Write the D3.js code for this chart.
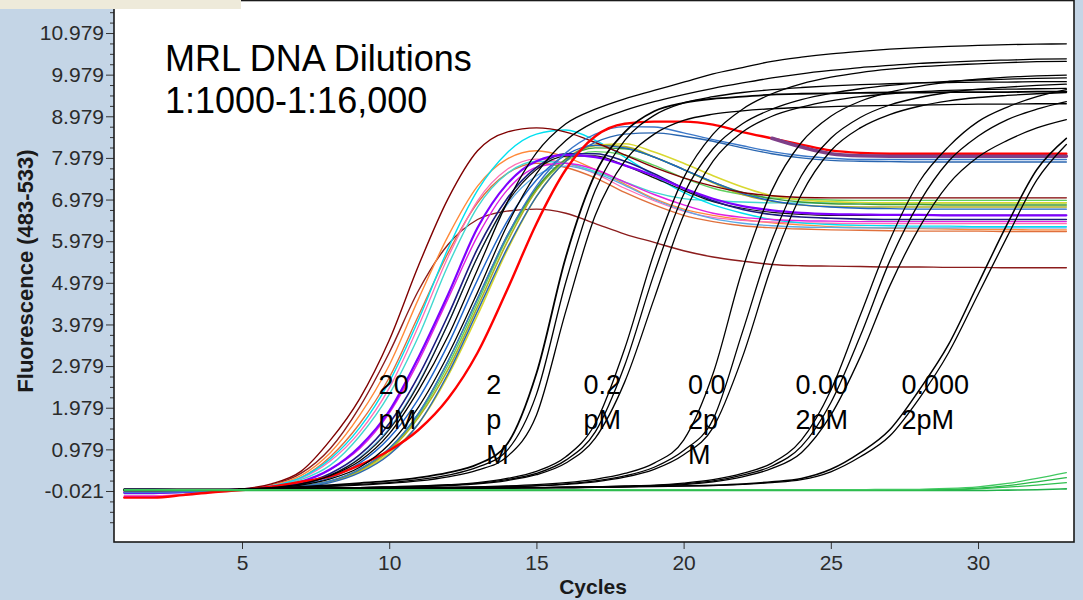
<!DOCTYPE html>
<html>
<head>
<meta charset="utf-8">
<script src="https://cdn.jsdelivr.net/npm/d3@7"></script>
<style>
  body { margin: 0; background: #C4D5E6; }
  svg { display: block; }
</style>
</head>
<body>
<div id="chart"></div>
<script>
/* qPCR amplification plot - MRL DNA dilutions */

// cycle numbers (x values)
var cycles = [1,2,3,4,5,6,7,8,9,10,11,12,13,14,15,16,17,18,19,20,21,22,23,24,25,26,27,28,29,30,31,32,33];

// axis ticks
var xTicks = [5, 10, 15, 20, 25, 30];
var yTicks = [-0.021, 0.979, 1.979, 2.979, 3.979, 4.979, 5.979, 6.979, 7.979, 8.979, 9.979, 10.979];
var yTickLabels = ["-0.021","0.979","1.979","2.979","3.979","4.979","5.979","6.979","7.979","8.979","9.979","10.979"];

// 20 pM samples (coloured)
var pM20_maroon   = [-0.02,-0.02,-0.01,0.00,0.03,0.15,0.45,1.20,2.20,3.60, 5.40,7.00,8.15,8.60,8.70,8.60,8.35,8.05,7.75,7.50, 7.30,7.15,7.07,7.03,7.02,7.02,7.02,7.02,7.02,7.02,7.02,7.02,7.02];
var pM20_maroonLow= [-0.05,-0.05,-0.03,0.00,0.02,0.12,0.40,1.00,2.00,3.30, 4.80,5.90,6.50,6.70,6.75,6.65,6.40,6.15,5.95,5.75, 5.60,5.50,5.42,5.39,5.38,5.37,5.36,5.36,5.35,5.35,5.34,5.34,5.34];
var pM20_orange   = [0.00,0.00,0.00,0.01,0.02,0.12,0.35,0.90,1.80,3.00, 4.60,6.10,7.30,7.95,8.15,8.00,7.70,7.35,7.00,6.75, 6.60,6.50,6.42,6.37,6.33,6.31,6.29,6.28,6.27,6.26,6.26,6.25,6.25];
var pM20_rust     = [-0.03,-0.03,-0.02,0.00,0.02,0.10,0.30,0.80,1.60,2.70, 4.20,5.70,6.90,7.60,7.85,7.75,7.50,7.15,6.85,6.60, 6.45,6.35,6.30,6.27,6.25,6.24,6.23,6.22,6.22,6.22,6.21,6.21,6.21];
var pM20_cyan     = [0.00,0.00,0.00,0.00,0.02,0.10,0.30,0.75,1.50,2.60, 4.10,5.80,7.20,8.10,8.55,8.65,8.40,8.00,7.55,7.15, 6.85,6.65,6.50,6.42,6.38,6.36,6.35,6.34,6.34,6.33,6.33,6.33,6.33];
var pM20_turq     = [0.01,0.01,0.01,0.01,0.02,0.09,0.25,0.60,1.30,2.30, 3.70,5.40,6.80,7.60,7.90,7.85,7.65,7.40,7.15,7.00, 6.95,6.92,6.90,6.90,6.90,6.90,6.90,6.90,6.90,6.90,6.90,6.90,6.90];
var pM20_purple   = [-0.06,-0.06,-0.04,-0.01,0.02,0.08,0.20,0.50,1.05,1.90, 3.20,4.70,6.30,7.35,7.90,8.05,8.00,7.80,7.55,7.25, 7.00,6.82,6.72,6.66,6.63,6.62,6.61,6.61,6.60,6.60,6.60,6.60,6.60];
var pM20_navy     = [0.02,0.02,0.02,0.02,0.02,0.07,0.16,0.40,0.85,1.60, 2.75,4.20,5.80,7.00,7.75,8.08,8.08,7.90,7.60,7.25, 6.95,6.74,6.62,6.56,6.53,6.51,6.50,6.50,6.50,6.50,6.50,6.50,6.50];
var pM20_black    = [0.03,0.03,0.02,0.02,0.02,0.06,0.14,0.36,0.76,1.45, 2.55,4.00,5.60,6.90,7.70,8.02,8.03,7.80,7.50,7.20, 6.93,6.77,6.67,6.62,6.60,6.60,6.60,6.60,6.60,6.60,6.60,6.60,6.60];
var pM20_steel    = [-0.08,-0.08,-0.06,-0.02,0.01,0.05,0.12,0.30,0.65,1.25, 2.20,3.50,5.05,6.45,7.45,8.05,8.28,8.22,8.00,7.70, 7.40,7.12,6.95,6.85,6.80,6.77,6.76,6.75,6.75,6.75,6.75,6.75,6.75];
var pM20_green    = [0.00,0.00,0.00,0.00,0.01,0.04,0.09,0.22,0.50,1.00, 1.85,3.10,4.60,6.10,7.25,7.95,8.22,8.20,8.00,7.70, 7.40,7.15,7.00,6.92,6.88,6.87,6.86,6.86,6.85,6.85,6.85,6.85,6.85];
var pM20_olive    = [0.02,0.02,0.02,0.02,0.02,0.04,0.09,0.21,0.47,0.95, 1.75,2.90,4.40,5.95,7.20,7.95,8.28,8.25,8.00,7.70, 7.38,7.10,6.94,6.85,6.81,6.80,6.80,6.80,6.80,6.80,6.80,6.80,6.80];
var pM20_yellow   = [0.02,0.02,0.02,0.02,0.02,0.04,0.08,0.20,0.44,0.88, 1.60,2.75,4.20,5.75,7.05,7.90,8.28,8.32,8.12,7.85, 7.55,7.28,7.07,6.97,6.93,6.91,6.90,6.90,6.90,6.90,6.90,6.90,6.90];
var pM20_magenta  = [-0.15,-0.15,-0.12,-0.05,0.01,0.08,0.20,0.50,1.00,1.85, 3.10,4.60,6.10,7.20,7.75,7.85,7.70,7.40,7.10,6.85, 6.65,6.55,6.50,6.47,6.46,6.45,6.45,6.45,6.45,6.45,6.45,6.45,6.45];
var pM20_skyblue  = [0.00,0.00,0.00,0.00,0.01,0.06,0.14,0.36,0.78,1.48, 2.58,4.00,5.60,6.85,7.55,7.78,7.62,7.32,6.98,6.72, 6.52,6.41,6.35,6.32,6.31,6.30,6.30,6.30,6.30,6.30,6.30,6.30,6.30];
var pM20_lime     = [0.01,0.01,0.01,0.01,0.01,0.04,0.09,0.21,0.50,0.98, 1.80,3.00,4.50,6.05,7.20,7.90,8.13,8.05,7.80,7.50, 7.25,7.10,7.02,6.99,6.97,6.96,6.96,6.96,6.96,6.96,6.96,6.96,6.96];
var pM20_pink     = [-0.13,-0.13,-0.10,-0.04,0.01,0.10,0.28,0.70,1.40,2.45, 3.95,5.60,6.95,7.70,7.95,7.85,7.60,7.25,6.95,6.70, 6.55,6.48,6.44,6.42,6.41,6.40,6.40,6.40,6.40,6.40,6.40,6.40,6.40];
var pM20_blueHigh = [-0.05,-0.05,-0.04,-0.02,0.01,0.04,0.09,0.22,0.50,1.00, 1.85,3.10,4.60,6.10,7.30,8.10,8.55,8.73,8.72,8.58, 8.42,8.27,8.13,8.03,7.97,7.94,7.94,7.94,7.94,7.94,7.94,7.94,7.94];
var pM20_blueHigh2= [0.00,0.00,0.00,0.00,0.01,0.03,0.07,0.18,0.42,0.85, 1.60,2.80,4.30,5.80,7.05,7.90,8.35,8.55,8.58,8.50, 8.38,8.22,8.08,7.98,7.92,7.90,7.89,7.88,7.88,7.88,7.88,7.88,7.88];
var pM20_red      = [-0.18,-0.18,-0.12,-0.05,0.00,0.08,0.20,0.33,0.60,0.95, 1.45,2.20,3.30,4.80,6.40,7.70,8.50,8.80,8.85,8.85, 8.78,8.60,8.45,8.30,8.16,8.10,8.08,8.08,8.08,8.08,8.08,8.08,8.08];
// mauve trace only shows once it leaves the red one
var pM20_mauve    = [null,null,null,null,null,null,null,null,null,null, null,null,null,null,null,null,null,null,null,null, null,null,8.45,8.24,8.08,8.03,8.02,8.02,8.02,8.02,8.02,8.02,8.02];
var pM20_blackHi  = [0.00,0.00,0.00,0.00,0.02,0.06,0.15,0.35,0.70,1.35, 2.40,3.70,5.30,6.90,8.10,8.80,9.15,9.40,9.60,9.80, 10.00,10.15,10.30,10.40,10.48,10.54,10.59,10.63,10.66,10.68,10.70,10.71,10.72];
var pM20_blackHi2 = [0.00,0.00,0.00,0.00,0.02,0.05,0.12,0.27,0.55,1.10, 2.00,3.25,4.75,6.35,7.60,8.40,8.85,9.12,9.33,9.50, 9.65,9.78,9.90,10.00,10.08,10.15,10.20,10.25,10.28,10.31,10.33,10.35,10.36];

// 2 pM
var pM2_a = [0.00,0.00,0.00,0.00,0.02,0.05,0.08,0.12,0.17,0.22, 0.30,0.42,0.62,1.10,2.80,5.60,7.60,8.60,9.10,9.30, 9.40,9.45,9.50,9.52,9.53,9.54,9.55,9.55,9.56,9.56,9.56,9.57,9.57];
var pM2_b = [0.00,0.00,0.00,0.00,0.02,0.04,0.07,0.10,0.14,0.18, 0.25,0.36,0.55,0.95,2.30,5.00,7.20,8.40,9.00,9.30, 9.45,9.55,9.62,9.67,9.71,9.74,9.76,9.78,9.79,9.80,9.80,9.81,9.81];
var pM2_c = [0.00,0.00,0.00,0.00,0.02,0.04,0.06,0.09,0.12,0.16, 0.22,0.32,0.48,0.80,1.80,4.30,6.60,7.90,8.55,8.88, 9.03,9.11,9.16,9.19,9.21,9.23,9.24,9.25,9.26,9.27,9.27,9.28,9.28];

// 0.2 pM
var pM02_a = [0.00,0.00,0.00,0.00,0.02,0.03,0.04,0.05,0.06,0.08, 0.10,0.13,0.18,0.28,0.45,0.80,1.60,3.40,5.70,7.50, 8.55,9.15,9.52,9.76,9.92,10.03,10.11,10.17,10.21,10.24,10.27,10.29,10.30];
var pM02_b = [0.00,0.00,0.00,0.00,0.02,0.03,0.04,0.05,0.06,0.07, 0.09,0.12,0.16,0.25,0.40,0.72,1.40,3.00,5.20,7.10, 8.20,8.80,9.15,9.38,9.53,9.64,9.72,9.78,9.82,9.85,9.87,9.89,9.90];
var pM02_c = [0.00,0.00,0.00,0.00,0.02,0.03,0.04,0.05,0.06,0.07, 0.08,0.11,0.15,0.23,0.37,0.65,1.25,2.60,4.60,6.60, 7.90,8.60,8.98,9.20,9.35,9.45,9.52,9.57,9.60,9.62,9.63,9.64,9.65];

// 0.02 pM
var pM002_a = [0.00,0.00,0.00,0.00,0.02,0.03,0.03,0.04,0.04,0.05, 0.06,0.07,0.08,0.10,0.13,0.18,0.26,0.40,0.65,1.20, 2.80,5.30,7.20,8.35,8.98,9.34,9.56,9.70,9.80,9.87,9.92,9.95,9.97];
var pM002_b = [0.00,0.00,0.00,0.00,0.02,0.03,0.03,0.04,0.04,0.05, 0.05,0.06,0.07,0.09,0.11,0.15,0.22,0.34,0.55,0.95, 1.70,3.80,6.00,7.55,8.45,8.95,9.25,9.43,9.55,9.63,9.68,9.72,9.75];
var pM002_c = [0.00,0.00,0.00,0.00,0.02,0.03,0.03,0.04,0.04,0.05, 0.05,0.06,0.07,0.08,0.10,0.14,0.20,0.31,0.50,0.85, 1.50,3.20,5.40,7.10,8.15,8.70,9.02,9.22,9.35,9.43,9.48,9.52,9.55];

// 0.002 pM
var pM0002_a = [0.00,0.00,0.00,0.00,0.02,0.03,0.03,0.04,0.04,0.04, 0.05,0.05,0.05,0.06,0.06,0.07,0.08,0.10,0.12,0.17, 0.25,0.40,0.65,1.20,2.40,4.20,6.00,7.40,8.25,8.85,9.20,9.45,9.62];
var pM0002_b = [0.00,0.00,0.00,0.00,0.02,0.03,0.03,0.04,0.04,0.04, 0.05,0.05,0.05,0.06,0.06,0.07,0.08,0.09,0.11,0.15, 0.22,0.36,0.58,1.05,2.10,3.70,5.50,6.90,7.90,8.50,8.90,9.15,9.33];
var pM0002_c = [0.00,0.00,0.00,0.00,0.02,0.03,0.03,0.04,0.04,0.04, 0.05,0.05,0.05,0.06,0.06,0.07,0.07,0.08,0.10,0.13, 0.20,0.32,0.52,0.90,1.80,3.20,4.90,6.30,7.35,8.00,8.40,8.70,8.90];

// 0.0002 pM
var pM00002_a = [0.00,0.00,0.00,0.00,0.02,0.03,0.03,0.03,0.04,0.04, 0.04,0.05,0.05,0.05,0.06,0.06,0.07,0.08,0.09,0.10, 0.12,0.15,0.20,0.28,0.50,0.90,1.45,2.40,3.50,4.95,6.40,7.70,8.45];
var pM00002_b = [0.00,0.00,0.00,0.00,0.02,0.03,0.03,0.03,0.04,0.04, 0.04,0.05,0.05,0.05,0.06,0.06,0.07,0.08,0.09,0.10, 0.11,0.14,0.18,0.25,0.44,0.80,1.30,2.20,3.30,4.70,6.10,7.45,8.30];

// negative controls
var ntc_a = [0.01,0.01,0.01,0.01,0.01,0.01,0.01,0.01,0.01,0.01, 0.01,0.01,0.01,0.01,0.01,0.01,0.01,0.01,0.01,0.01, 0.01,0.01,0.01,0.01,0.01,0.01,0.02,0.02,0.04,0.08,0.16,0.28,0.42];
var ntc_b = [0.00,0.00,0.00,0.00,0.00,0.00,0.00,0.00,0.00,0.00, 0.00,0.00,0.00,0.00,0.00,0.00,0.00,0.00,0.00,0.00, 0.00,0.00,0.00,0.00,0.00,0.00,0.01,0.01,0.02,0.05,0.11,0.20,0.30];
var ntc_c = [0.00,0.00,0.00,0.00,0.00,0.00,0.00,0.00,0.00,0.00, 0.00,0.00,0.00,0.00,0.00,0.00,0.00,0.00,0.00,0.00, 0.00,0.00,0.00,0.00,0.00,0.00,0.00,0.00,0.01,0.03,0.07,0.12,0.18];
var ntc_d = [-0.01,-0.01,-0.01,-0.01,-0.01,-0.01,-0.01,-0.01,-0.01,-0.01, -0.01,-0.01,-0.01,-0.01,-0.01,-0.01,-0.01,-0.01,-0.01,-0.01, -0.01,-0.01,-0.01,-0.01,-0.01,-0.01,-0.01,-0.01,-0.01,-0.01,0.00,0.01,0.03];

// text on the plot
var titleLines = ["MRL DNA Dilutions", "1:1000-1:16,000"];
var dilutionLabels = [["20","pM"], ["2","p","M"], ["0.2","pM"], ["0.0","2p","M"], ["0.00","2pM"], ["0.000","2pM"]];
var labelCycles = [9.64, 13.3, 16.6, 20.15, 23.8, 27.4];

// drawing list (data + look)
var curves = [
  {v: pM20_maroonLow, c: "#8b1c1c", w: 1.4},
  {v: pM20_rust, c: "#e0703c", w: 1.4},
  {v: pM20_orange, c: "#ff8a3a", w: 1.4},
  {v: pM20_pink, c: "#ff6eb4", w: 1.3},
  {v: pM20_skyblue, c: "#5aaae6", w: 1.3},
  {v: pM20_turq, c: "#40d8d0", w: 1.4},
  {v: pM20_cyan, c: "#00e0f0", w: 1.4},
  {v: pM20_lime, c: "#60d060", w: 1.4},
  {v: pM20_yellow, c: "#d8d830", w: 1.6},
  {v: pM20_olive, c: "#b0b020", w: 1.6},
  {v: pM20_green, c: "#3a9a3a", w: 1.4},
  {v: pM20_steel, c: "#1e64c8", w: 1.4},
  {v: pM20_magenta, c: "#e020e0", w: 1.4},
  {v: pM20_black, c: "#111111", w: 1.2},
  {v: pM20_navy, c: "#1c1c80", w: 1.6},
  {v: pM20_purple, c: "#7f00ff", w: 2.2},
  {v: pM20_maroon, c: "#7f0000", w: 1.4},
  {v: pM20_blueHigh2, c: "#2a66b0", w: 1.4},
  {v: pM20_blueHigh, c: "#3c78c8", w: 1.4},
  {v: pM20_red, c: "#ff0000", w: 2.4},
  {v: pM20_mauve, c: "#7e3f88", w: 3.6},
  {v: pM20_blackHi, c: "#000", w: 1.3},
  {v: pM20_blackHi2, c: "#000", w: 1.3},
  {v: pM2_a, c: "#000", w: 1.8},
  {v: pM2_b, c: "#000", w: 1.3},
  {v: pM2_c, c: "#000", w: 1.3},
  {v: pM02_a, c: "#000", w: 1.3},
  {v: pM02_b, c: "#000", w: 1.3},
  {v: pM02_c, c: "#000", w: 1.3},
  {v: pM002_a, c: "#000", w: 1.3},
  {v: pM002_b, c: "#000", w: 1.3},
  {v: pM002_c, c: "#000", w: 1.3},
  {v: pM0002_a, c: "#000", w: 1.3},
  {v: pM0002_b, c: "#000", w: 1.3},
  {v: pM0002_c, c: "#000", w: 1.3},
  {v: pM00002_a, c: "#000", w: 1.5},
  {v: pM00002_b, c: "#000", w: 1.3},
  {v: ntc_d, c: "#22b04a", w: 1.6},
  {v: ntc_c, c: "#30c050", w: 1.3},
  {v: ntc_b, c: "#28b848", w: 1.3},
  {v: ntc_a, c: "#40c860", w: 1.3}
];

var W = 1083, H = 600;
var plot = {left: 114, right: 1074, top: 0, bottom: 542};

var svg = d3.select("#chart").append("svg")
    .attr("width", W).attr("height", H);

svg.append("rect").attr("width", W).attr("height", H).attr("fill", "#C4D5E6");

var x = d3.scaleLinear().domain([0.652, 33.26]).range([plot.left, plot.right]);
var y = d3.scaleLinear().domain([-1.246, 11.772]).range([plot.bottom, plot.top]);

// plot area
svg.append("rect")
    .attr("x", plot.left).attr("y", plot.top)
    .attr("width", plot.right - plot.left).attr("height", plot.bottom - plot.top)
    .attr("fill", "#fff");

svg.append("clipPath").attr("id", "clip")
  .append("rect")
    .attr("x", plot.left).attr("y", plot.top)
    .attr("width", plot.right - plot.left).attr("height", plot.bottom - plot.top);

// minor y ticks every 0.25
var minorTicks = d3.range(-1.021, 11.75, 0.25).filter(function(d) {
  return Math.abs(((d + 0.021) % 1 + 1) % 1) > 0.01;
});

var yMinor = svg.append("g")
    .attr("transform", "translate(" + plot.left + ",0)")
    .call(d3.axisLeft(y).tickValues(minorTicks).tickSize(4).tickFormat(""));
yMinor.select(".domain").remove();
yMinor.selectAll("line").attr("stroke", "#333");

var yAxis = svg.append("g")
    .attr("transform", "translate(" + plot.left + ",0)")
    .call(d3.axisLeft(y).tickValues(yTicks).tickSize(8).tickPadding(2)
      .tickFormat(function(d, i) { return yTickLabels[i]; }));
yAxis.select(".domain").remove();
yAxis.selectAll("line").attr("stroke", "#333");
yAxis.selectAll("text")
    .attr("font-family", "Liberation Sans, Arial, sans-serif")
    .attr("font-size", 21).attr("fill", "#2b2b2b");

var xAxis = svg.append("g")
    .attr("transform", "translate(0," + plot.bottom + ")")
    .call(d3.axisBottom(x).tickValues(xTicks).tickSize(7).tickPadding(6));
xAxis.select(".domain").remove();
xAxis.selectAll("line").attr("stroke", "#333");
xAxis.selectAll("text")
    .attr("font-family", "Liberation Sans, Arial, sans-serif")
    .attr("font-size", 21).attr("fill", "#2b2b2b");

// curves
var line = d3.line()
    .defined(function(d) { return d !== null; })
    .x(function(d, i) { return x(cycles[i]); })
    .y(function(d) { return y(d); })
    .curve(d3.curveMonotoneX);

svg.append("g").attr("clip-path", "url(#clip)")
  .selectAll("path")
  .data(curves)
  .enter().append("path")
    .attr("d", function(d) { return line(d.v); })
    .attr("fill", "none")
    .attr("stroke", function(d) { return d.c; })
    .attr("stroke-width", function(d) { return d.w; })
    .attr("stroke-linejoin", "round")
    .attr("stroke-linecap", "round");

// plot frame
svg.append("rect")
    .attr("x", plot.left).attr("y", plot.top + 0.5)
    .attr("width", plot.right - plot.left).attr("height", plot.bottom - plot.top - 0.5)
    .attr("fill", "none").attr("stroke", "#1a1a1a").attr("stroke-width", 1.6);

// axis titles
svg.append("text")
    .attr("x", 593).attr("y", 594)
    .attr("text-anchor", "middle")
    .attr("font-family", "Liberation Sans, Arial, sans-serif")
    .attr("font-weight", "bold").attr("font-size", 21).attr("fill", "#1a1a1a")
    .text("Cycles");

svg.append("text")
    .attr("transform", "translate(33,271) rotate(-90)")
    .attr("text-anchor", "middle")
    .attr("font-family", "Liberation Sans, Arial, sans-serif")
    .attr("font-weight", "bold").attr("font-size", 22).attr("fill", "#1a1a1a")
    .text("Fluorescence (483-533)");

// title inside plot
svg.selectAll(".title")
  .data(titleLines)
  .enter().append("text")
    .attr("x", 165)
    .attr("y", function(d, i) { return 71 + i * 42; })
    .attr("font-family", "Liberation Sans, Arial, sans-serif")
    .attr("font-size", 36).attr("fill", "#000")
    .text(function(d) { return d; });

// dilution labels
dilutionLabels.forEach(function(lines, k) {
  var t = svg.append("text")
      .attr("font-family", "Liberation Sans, Arial, sans-serif")
      .attr("font-size", 27).attr("fill", "#000");
  lines.forEach(function(s, j) {
    t.append("tspan")
        .attr("x", x(labelCycles[k]))
        .attr("y", y(2.3) + j * 35)
        .text(s);
  });
});

// beige strip top-left
svg.append("rect").attr("x", 0).attr("y", 0).attr("width", 241).attr("height", 9)
    .attr("fill", "#EEEADA");
</script>
</body>
</html>
